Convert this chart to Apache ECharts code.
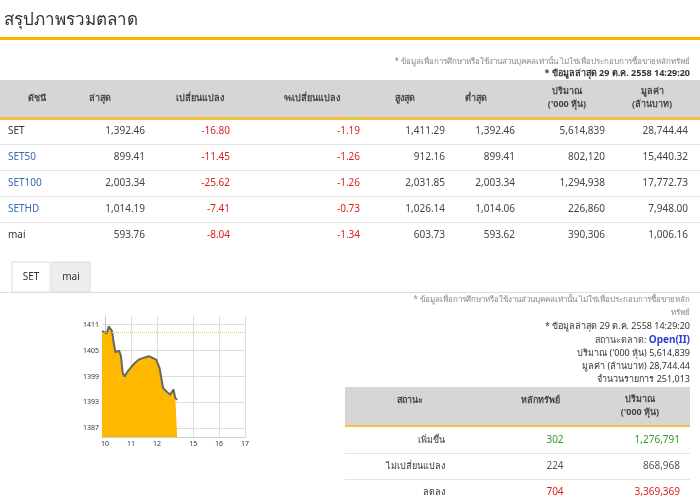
<!DOCTYPE html>
<html><head><meta charset="utf-8">
<script src="https://cdn.jsdelivr.net/npm/echarts@6/dist/echarts.min.js"></script>
<style>html,body{margin:0;background:#fff}#main{width:700px;height:504px}</style>
</head><body><div id="main"></div>
<script>
var F = '"Noto Sans", "DejaVu Sans", sans-serif';
var headers = ['ดัชนี', 'ล่าสุด', 'เปลี่ยนแปลง', '%เปลี่ยนแปลง', 'สูงสุด', 'ต่ำสุด', 'ปริมาณ\n(\'000 หุ้น)', 'มูลค่า\n(ล้านบาท)'];
var indexNames = ['SET', 'SET50', 'SET100', 'SETHD', 'mai'];
var lastVals = ['1,392.46', '899.41', '2,003.34', '1,014.19', '593.76'];
var changes = ['-16.80', '-11.45', '-25.62', '-7.41', '-8.04'];
var pctChanges = ['-1.19', '-1.26', '-1.26', '-0.73', '-1.34'];
var highs = ['1,411.29', '912.16', '2,031.85', '1,026.14', '603.73'];
var lows = ['1,392.46', '899.41', '2,003.34', '1,014.06', '593.62'];
var volumes = ['5,614,839', '802,120', '1,294,938', '226,860', '390,306'];
var values = ['28,744.44', '15,440.32', '17,772.73', '7,948.00', '1,006.16'];

var infoLines = ['* ข้อมูลเพื่อการศึกษาหรือใช้งานส่วนบุคคลเท่านั้น ไม่ใช่เพื่อประกอบการซื้อขายหลัก', 'ทรัพย์', '* ข้อมูลล่าสุด 29 ต.ค. 2558 14:29:20', 'สถานะตลาด: Open(II)', 'ปริมาณ (\'000 หุ้น) 5,614,839', 'มูลค่า (ล้านบาท) 28,744.44', 'จำนวนรายการ 251,013'];
var statusNames = ['เพิ่มขึ้น', 'ไม่เปลี่ยนแปลง', 'ลดลง'];
var statusCounts = ['302', '224', '704'];
var statusVolumes = ['1,276,791', '868,968', '3,369,369'];
var statusColors = ['#2e9a2e', '#555', '#e02020'];

// intraday SET index (x in trading hours from 10:00)
var timeX = [-0.12, 0.07, 0.14, 0.2, 0.27, 0.33, 0.4, 0.54, 0.61, 0.68, 0.75, 0.87, 1.08, 1.29, 1.48, 1.69, 1.83, 1.97, 2.1, 2.24, 2.38, 2.51, 2.64, 2.71, 2.78];
var setIdx = [1409.5, 1409.0, 1410.6, 1411.0, 1409.5, 1406.8, 1404.6, 1405.0, 1403.8, 1399.8, 1399.0, 1400.2, 1401.7, 1402.9, 1403.3, 1403.7, 1403.3, 1402.9, 1401.0, 1396.3, 1395.5, 1394.8, 1396.0, 1394.0, 1393.6];
var prevClose = 1409.26;
var yTicks = [1387, 1393, 1399, 1405, 1411];
var xTicks = [0, 1, 2, 3.4, 4.4, 5.4];
var xLabels = ['10', '11', '12', '15', '16', '17'];

var g = [];
function txt(x, y, s, o) {
  o = o || {};
  g.push({type: 'text', x: x, y: y, silent: true, style: {text: s, fill: o.fill || '#444', font: (o.w || 'normal') + ' ' + (o.size || 10) + 'px ' + F, align: o.align || 'left', verticalAlign: 'middle', lineHeight: 13}});
}
function rect(x, y, w, h, fill, stroke) {
  g.push({type: 'rect', silent: true, shape: {x: x, y: y, width: w, height: h}, style: {fill: fill, stroke: stroke || null}, z: -1});
}

txt(4, 20, 'สรุปภาพรวมตลาด', {size: 17, fill: '#333'});
rect(0, 37, 700, 3, '#f5b400');
txt(690, 62, infoLines[0].replace('หลัก', 'หลักทรัพย์'), {align: 'right', size: 8, fill: '#888'});
txt(690, 73, infoLines[2], {align: 'right', size: 9, fill: '#333', w: 'bold'});
rect(0, 80, 700, 37, '#d6d6d6');
rect(0, 117, 700, 3, '#f5c040');
var hx = [37, 100, 200, 312, 405, 476, 567, 652];
headers.forEach(function (h, i) { txt(hx[i], 98, h, {align: 'center', size: 9, fill: '#444', w: 'bold'}); });
var colsR = [145, 230, 360, 445, 515, 605, 688];
indexNames.forEach(function (n, r) {
  var y = 131 + r * 26;
  if (r < 4) rect(0, y + 13, 700, 1, '#e4e4e4');
  txt(8, y, n, {fill: r > 0 && r < 4 ? '#3a6ab0' : '#333'});
  var row = [lastVals[r], changes[r], pctChanges[r], highs[r], lows[r], volumes[r], values[r]];
  row.forEach(function (v, c) { txt(colsR[c], y, v, {align: 'right', fill: (c === 1 || c === 2) ? '#e02020' : '#444'}); });
});

// tabs
rect(12, 262, 38, 30, '#fff', '#ddd');
rect(52, 262, 38, 30, '#eee', '#ddd');
rect(0, 292, 700, 1, '#ddd');
txt(31, 277, 'SET', {align: 'center', fill: '#333'});
txt(71, 277, 'mai', {align: 'center', fill: '#333'});

// info block
infoLines.forEach(function (s, i) {
  if (i === 0) { txt(690, 300, s, {align: 'right', size: 8, fill: '#888'}); return; }
  if (i === 1) { txt(690, 313, s, {align: 'right', size: 8, fill: '#888'}); return; }
  if (i === 3) {
    g.push({type: 'text', x: 690, y: 340, style: {text: '{a|สถานะตลาด: }{b|Open(II)}', align: 'right', verticalAlign: 'middle', rich: {a: {fill: '#444', font: '9px ' + F}, b: {fill: '#3040d0', font: 'bold 10px ' + F}}}});
    return;
  }
  txt(690, 300 + i * 13.3, s, {align: 'right', size: 9, fill: '#333'});
});

// status table
rect(345, 387, 345, 38, '#d6d6d6');
txt(410, 400, 'สถานะ', {align: 'center', size: 9, fill: '#444', w: 'bold'});
txt(540, 400, 'หลักทรัพย์', {align: 'center', size: 9, fill: '#444', w: 'bold'});
txt(640, 406, 'ปริมาณ\n(\'000 หุ้น)', {align: 'center', size: 9, fill: '#444', w: 'bold'});
rect(345, 425, 345, 2, '#f5c040');
statusNames.forEach(function (s, i) {
  var y = 440 + i * 26;
  if (i < 2) rect(345, y + 13, 345, 1, '#e4e4e4');
  txt(445, y, s, {align: 'right', size: 9, fill: '#333'});
  txt(555, y, statusCounts[i], {align: 'center', fill: statusColors[i]});
  txt(680, y, statusVolumes[i], {align: 'right', fill: statusColors[i]});
});

var chart = echarts.init(document.getElementById('main'));
chart.setOption({
  animation: false,
  graphic: g,
  grid: {left: 102, top: 316, width: 143, height: 121},
  xAxis: {
    type: 'value', min: -0.12, max: 5.4,
    axisLine: {lineStyle: {color: '#ccc'}},
    splitLine: {show: true, showMinLine: false, lineStyle: {color: '#ddd'}},
    axisLabel: {customValues: xTicks, formatter: function (v) { return xLabels[xTicks.indexOf(v)]; }, fontSize: 7, color: '#333', fontFamily: F, margin: 3},
    axisTick: {show: false, customValues: xTicks}
  },
  yAxis: {
    type: 'value', min: 1385, max: 1413,
    axisLine: {show: true, lineStyle: {color: '#ccc'}},
    splitLine: {show: true, lineStyle: {color: '#ddd'}},
    axisLabel: {customValues: yTicks, formatter: function (v) { return String(v); }, fontSize: 7, color: '#333', fontFamily: F, margin: 3},
    axisTick: {show: false, customValues: yTicks}
  },
  series: [{
    type: 'line', data: timeX.map(function (x, i) { return [x, setIdx[i]]; }),
    showSymbol: false, lineStyle: {color: '#666', width: 2},
    areaStyle: {color: '#ffb800', opacity: 1, origin: 'start'},
    markLine: {silent: true, symbol: 'none', label: {show: false}, lineStyle: {color: '#e8d040', type: 'dotted', width: 1}, data: [{yAxis: prevClose}]}
  }]
});
</script></body></html>
